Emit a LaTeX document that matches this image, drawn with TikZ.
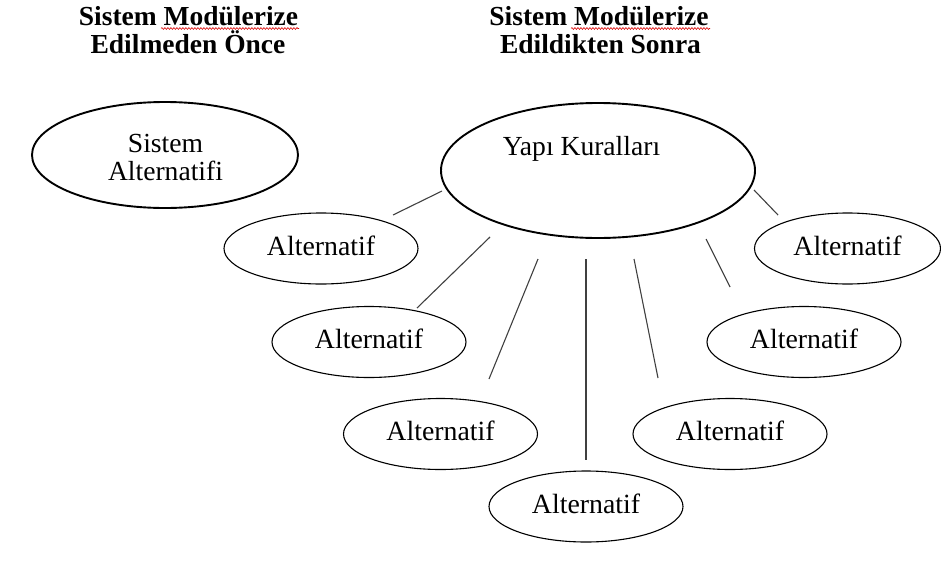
\documentclass[tikz,border=0pt]{standalone}
\usepackage{fontspec}
\setmainfont{Liberation Serif}
\usetikzlibrary{shapes.geometric,decorations.pathmorphing}
\tikzset{
  alt/.style={ellipse, draw=black, line width=1.1pt, minimum width=194pt, minimum height=71pt,
    inner sep=0pt, font=\fontsize{27.8}{28}\selectfont, text height=13pt, text depth=0pt},
  bigell/.style={ellipse, draw=black, line width=1.9pt, inner sep=0pt},
  lbl/.style={anchor=base, inner sep=0pt, font=\fontsize{27.6}{28}\selectfont},
  ttl/.style={anchor=base, inner sep=0pt, font=\fontsize{27.5}{28}\selectfont\bfseries},
  conn/.style={draw=black!75, line width=1.1pt},
  squig/.style={draw=red!85!black, line width=0.6pt, decorate,
    decoration={snake, amplitude=0.9pt, segment length=3pt}}
}
\begin{document}
\begin{tikzpicture}[x=1pt,y=-1pt]
\useasboundingbox (0,0) rectangle (941,562);
% titles
\node[ttl] (t1a) at (188.5,25) {Sistem Modülerize};
\node[ttl] (t1b) at (188,53) {Edilmeden Önce};
\node[ttl] (t2a) at (599,25) {Sistem Modülerize};
\node[ttl] (t2b) at (600.5,53) {Edildikten Sonra};
\coordinate (s1a) at (161,28.5); \coordinate (s1b) at (299,28.5);
\coordinate (s2a) at (571,28.5); \coordinate (s2b) at (710,28.5);
\draw[squig] (s1a) -- (s1b);
\draw[squig] (s2a) -- (s2b);
% big ellipses
\node[bigell, minimum width=266pt, minimum height=106pt] (sa) at (165,155) {};
\node[lbl] (sa1) at (165.5,152) {Sistem};
\node[lbl] (sa2) at (165.5,180) {Alternatifi};
\node[bigell, minimum width=314pt, minimum height=135pt] (yk) at (598,170.5) {};
\node[lbl] (ykt) at (581.5,155) {Yapı Kuralları};
% alternatives
\node[alt] (a1) at (321,248.5) {Alternatif};
\node[alt] (a2) at (369,342) {Alternatif};
\node[alt] (a3) at (440.5,434) {Alternatif};
\node[alt] (a4) at (586,506.5) {Alternatif};
\node[alt] (a5) at (730,434) {Alternatif};
\node[alt] (a6) at (804,342) {Alternatif};
\node[alt, minimum width=186pt] (a7) at (847.5,248.5) {Alternatif};
% connector ends
\coordinate (c1s) at (442,191); \coordinate (c1e) at (393,215);
\coordinate (c2s) at (490,237); \coordinate (c2e) at (417,308);
\coordinate (c3s) at (538,259); \coordinate (c3e) at (489,379);
\coordinate (c4s) at (586,259); \coordinate (c4e) at (586,460);
\coordinate (c5s) at (634,259); \coordinate (c5e) at (658,378);
\coordinate (c6s) at (706,239); \coordinate (c6e) at (730,287);
\coordinate (c7s) at (754,190); \coordinate (c7e) at (778,215);
\draw[conn] (c1s) -- (c1e);
\draw[conn] (c2s) -- (c2e);
\draw[conn] (c3s) -- (c3e);
\draw[conn] (c4s) -- (c4e);
\draw[conn] (c5s) -- (c5e);
\draw[conn] (c6s) -- (c6e);
\draw[conn] (c7s) -- (c7e);
\end{tikzpicture}
\end{document}
